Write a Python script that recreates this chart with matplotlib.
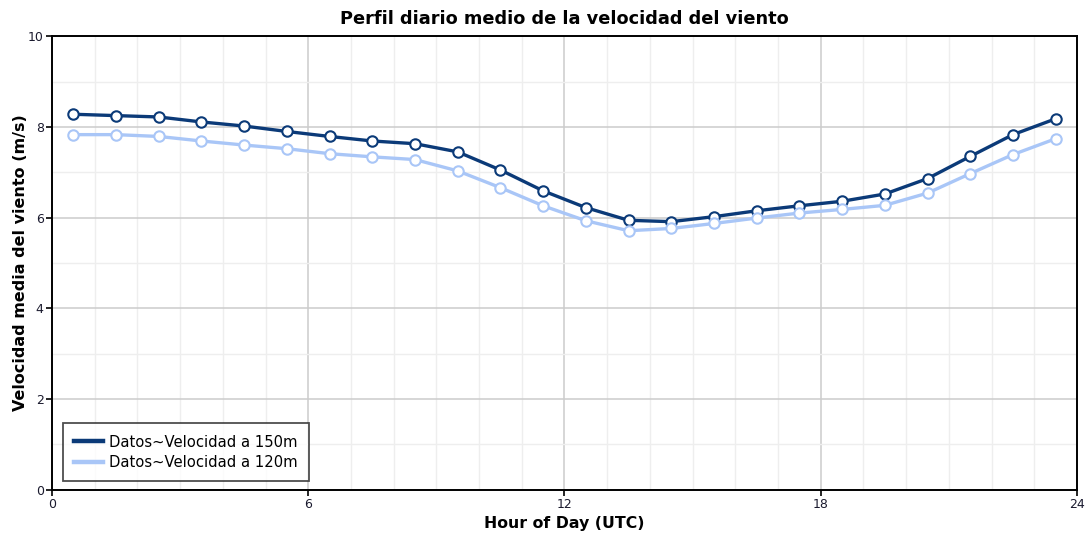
import matplotlib
matplotlib.use("Agg")
import matplotlib.pyplot as plt
from matplotlib.ticker import MultipleLocator

# Mean hourly wind speed profile (m/s) at two heights
hours = [h + 0.5 for h in range(24)]
speed_150m = [8.28, 8.25, 8.22, 8.11, 8.02, 7.90, 7.79, 7.69, 7.63, 7.45, 7.05, 6.59,
              6.22, 5.94, 5.91, 6.02, 6.15, 6.26, 6.36, 6.52, 6.86, 7.35, 7.83, 8.18]
speed_120m = [7.83, 7.83, 7.79, 7.69, 7.60, 7.52, 7.41, 7.34, 7.28, 7.03, 6.66, 6.26,
              5.93, 5.71, 5.76, 5.87, 5.99, 6.10, 6.18, 6.27, 6.54, 6.97, 7.39, 7.74]
series_labels = ["Datos~Velocidad a 150m", "Datos~Velocidad a 120m"]
x_ticks = [0, 6, 12, 18, 24]
y_ticks = [0, 2, 4, 6, 8, 10]

plt.rcParams['font.family'] = ['DejaVu Sans']

fig = plt.figure(figsize=(10.87, 5.33), dpi=100)
ax = fig.add_axes([0.0478, 0.0816, 0.9430, 0.8503])

dark = "#0b3a78"
light = "#a9c6f7"

for y, col, lab in [(speed_150m, dark, series_labels[0]), (speed_120m, light, series_labels[1])]:
    ax.plot(hours, y, color=col, lw=2.4, label=lab, zorder=3,
            marker="o", markersize=7.5, markerfacecolor="white",
            markeredgecolor=col, markeredgewidth=1.5)

ax.set_xlim(0, 24)
ax.set_ylim(0, 10)
ax.set_xticks(x_ticks)
ax.set_yticks(y_ticks)
ax.xaxis.set_minor_locator(MultipleLocator(1))
ax.yaxis.set_minor_locator(MultipleLocator(1))
ax.grid(which="major", color="#cccccc", lw=1.1, zorder=0)
ax.grid(which="minor", color="#eeeeee", lw=1.0, zorder=0)
ax.set_axisbelow(True)

for s in ax.spines.values():
    s.set_color("black")
    s.set_linewidth(1.4)

ax.tick_params(which="major", direction="out", length=4, width=1.2,
               labelsize=9, labelcolor="#1a1a2e", pad=2)
ax.tick_params(which="minor", length=0)

ax.set_title("Perfil diario medio de la velocidad del viento", fontsize=12.8,
             fontweight="bold", pad=9)
ax.set_xlabel("Hour of Day (UTC)", fontsize=11.3, fontweight="bold")
ax.set_ylabel("Velocidad media del viento (m/s)", fontsize=11.5, fontweight="bold")
ax.yaxis.set_label_coords(-0.031, 0.5)
ax.xaxis.set_label_coords(0.5, -0.074)
ax.xaxis.label.set_verticalalignment("center")
ax.yaxis.label.set_verticalalignment("center")

leg = ax.legend(loc="lower left", bbox_to_anchor=(0.0104, 0.0194), fontsize=10.6,
                frameon=True, fancybox=False, edgecolor="#222222",
                handlelength=2.0, handletextpad=0.4, borderpad=0.75,
                labelspacing=0.35, borderaxespad=0)
leg.get_frame().set_linewidth(1.3)
for h in leg.legend_handles:
    h.set_marker("")
    h.set_linewidth(3.2)

fig.savefig("out.png", dpi=100)
